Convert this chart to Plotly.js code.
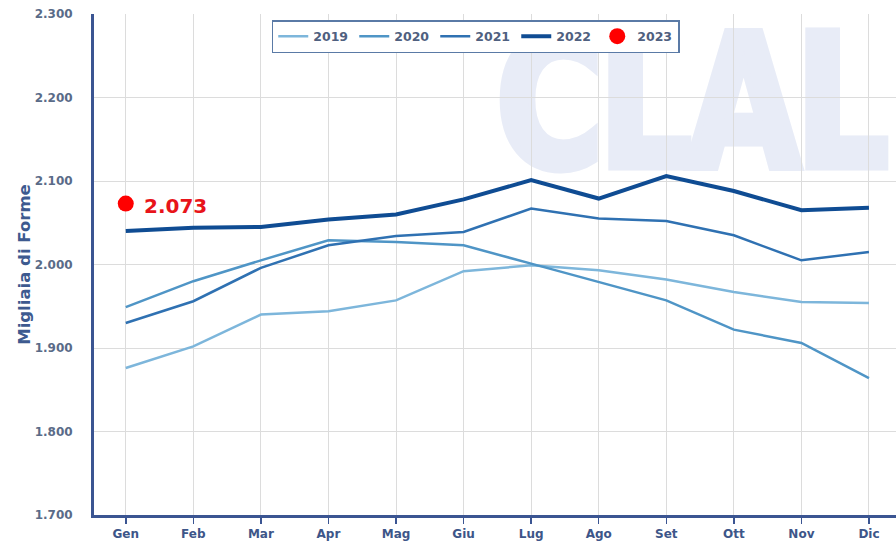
<!DOCTYPE html>
<html>
<head>
<meta charset="utf-8">
<script src="https://cdn.plot.ly/plotly-3.0.1.min.js"></script>
<style>
html,body{margin:0;padding:0;background:#fff;}
#wrap{position:relative;width:896px;height:542px;overflow:hidden;}
#wm{position:absolute;left:496px;top:10px;height:200px;z-index:0;
  font-family:"DejaVu Sans",sans-serif;font-weight:bold;font-size:184px;line-height:184px;color:#e8ecf7;
  -webkit-text-stroke:9px #e8ecf7;
  transform-origin:0 0;transform:scaleX(0.795);letter-spacing:-6px;white-space:nowrap;}
#chart{position:absolute;left:0;top:0;width:896px;height:542px;z-index:1;}
</style>
</head>
<body>
<div id="wrap">
<div id="wm">CLAL</div>
<div id="chart"></div>
</div>
<script>
const months = ["Gen","Feb","Mar","Apr","Mag","Giu","Lug","Ago","Set","Ott","Nov","Dic"];
const y2019 = [1876,1902,1940,1944,1957,1992,1999,1993,1982,1967,1955,1954];
const y2020 = [1949,1980,2005,2029,2027,2023,2001,1979,1957,1922,1906,1864];
const y2021 = [1930,1956,1996,2023,2034,2039,2067,2055,2052,2035,2005,2015];
const y2022 = [2040,2044,2045,2054,2060,2078,2101,2079,2106,2088,2065,2068];
const months2023 = ["Gen"];
const y2023 = [2073];
const label2023 = "2.073";

const axisBlue = "#3b5592";
const tickGray = "#5a6b88";
const font = "DejaVu Sans, Verdana, sans-serif";

const traces = [
  {x: months, y: y2019, name: "2019", mode: "lines", line: {color: "#7db6db", width: 2.5}},
  {x: months, y: y2020, name: "2020", mode: "lines", line: {color: "#4f95c6", width: 2.5}},
  {x: months, y: y2021, name: "2021", mode: "lines", line: {color: "#2f71b2", width: 2.5}},
  {x: months, y: y2022, name: "2022", mode: "lines", line: {color: "#0f4c93", width: 4}},
  {x: months2023, y: y2023, name: "2023", mode: "markers", marker: {color: "#ff0000", size: 16}}
];

const layout = {
  width: 896, height: 542,
  margin: {l: 94, r: 0, t: 14, b: 27},
  paper_bgcolor: "rgba(0,0,0,0)", plot_bgcolor: "rgba(0,0,0,0)",
  separators: ",.",
  font: {family: font, color: tickGray},
  showlegend: true,
  legend: {
    orientation: "h", x: 0.476, xanchor: "center", y: 0.988, yanchor: "top",
    bgcolor: "#fff", bordercolor: "#5a7aa6", borderwidth: 1.5,
    font: {family: font, size: 12.5, color: "#4f6080", weight: "bold"},
    itemwidth: 30, entrywidth: 36, entrywidthmode: "pixels", traceorder: "normal"
  },
  xaxis: {
    type: "category", range: [-0.47, 11.4],
    showgrid: true, gridcolor: "#dcdcdc", gridwidth: 1,
    showline: true, linecolor: axisBlue, linewidth: 3,
    ticks: "outside", ticklen: 6, tickcolor: axisBlue, tickwidth: 1.5,
    tickfont: {family: font, size: 12, color: "#3d5689", weight: "bold"},
    zeroline: false, fixedrange: true
  },
  yaxis: {
    range: [1700, 2300], dtick: 100, tickformat: ",d",
    showgrid: true, gridcolor: "#dcdcdc", gridwidth: 1,
    showline: true, linecolor: axisBlue, linewidth: 3,
    ticks: "", ticklen: 0, ticklabelstandoff: 16,
    tickfont: {family: font, size: 12, color: tickGray, weight: "bold"},
    title: {text: "Migliaia di Forme", font: {family: font, size: 16.5, color: "#3d5a8f", weight: "bold"}, standoff: 0},
    zeroline: false, fixedrange: true
  },
  annotations: [
    {x: "Gen", y: y2023[0], xref: "x", yref: "y", text: label2023, showarrow: false,
     xanchor: "left", yanchor: "middle", xshift: 16, yshift: -2,
     font: {family: font, size: 20, color: "#e8141a", weight: "bold"}}
  ]
};

Plotly.newPlot("chart", traces, layout, {displayModeBar: false, staticPlot: true});
</script>
</body>
</html>
